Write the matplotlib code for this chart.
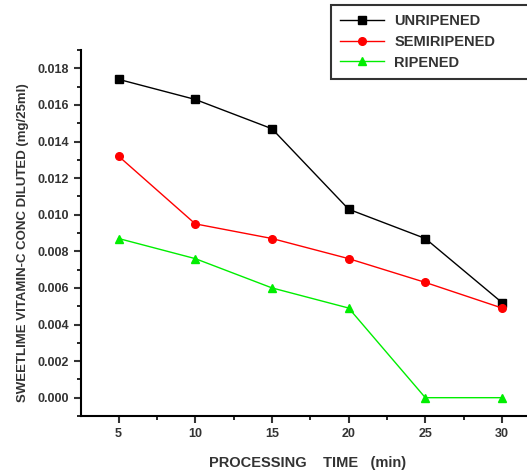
import matplotlib.pyplot as plt
import numpy as np
from matplotlib.ticker import MultipleLocator, FormatStrFormatter

# processing time (min)
time_min = [5, 10, 15, 20, 25, 30]

# vitamin C concentration (mg/25ml)
unripened = [0.0174, 0.0163, 0.0147, 0.0103, 0.0087, 0.0052]
semiripened = [0.0132, 0.0095, 0.0087, 0.0076, 0.0063, 0.0049]
ripened = [0.0087, 0.0076, 0.0060, 0.0049, 0.0000, 0.0000]

plt.rcParams['font.family'] = ['Liberation Sans', 'DejaVu Sans']
plt.rcParams['font.weight'] = 'bold'

fig = plt.figure(figsize=(5.27, 4.74), dpi=100)
ax = fig.add_axes([0.1537, 0.1224, 0.86, 0.772])

ax.plot(time_min, unripened, color='black', marker='s', markersize=5.5,
        linewidth=1, label='UNRIPENED')
ax.plot(time_min, semiripened, color='red', marker='o', markersize=5.5,
        linewidth=1, label='SEMIRIPENED')
ax.plot(time_min, ripened, color='#00ee00', marker='^', markersize=5.5,
        linewidth=1, label='RIPENED')

ax.set_xlim(2.55, 32.1)
ax.set_ylim(-0.001, 0.019)

ax.spines['top'].set_visible(False)
ax.spines['right'].set_visible(False)
ax.spines['left'].set_linewidth(1.5)
ax.spines['bottom'].set_linewidth(1.5)

ax.xaxis.set_major_locator(MultipleLocator(5))
ax.xaxis.set_minor_locator(MultipleLocator(2.5))
ax.yaxis.set_major_locator(MultipleLocator(0.002))
ax.yaxis.set_minor_locator(MultipleLocator(0.001))
ax.yaxis.set_major_formatter(FormatStrFormatter('%.3f'))
ax.tick_params(which='major', direction='out', length=5, width=1.5,
               labelsize=9, colors='#333333')
ax.tick_params(which='minor', direction='out', length=3, width=1.2)
for lab in ax.get_xticklabels() + ax.get_yticklabels():
    lab.set_fontweight('bold')

ax.set_xlabel('PROCESSING    TIME   (min)', fontsize=10.5, fontweight='bold',
              color='#333333', labelpad=12)
ax.set_ylabel('SWEETLIME VITAMIN-C CONC DILUTED (mg/25ml)', fontsize=9.5,
              fontweight='bold', color='#333333')
ax.yaxis.set_label_coords(-0.115, 0.475)

leg = fig.legend(loc='upper left',
                 bbox_to_anchor=(331 / 527, 1 - 78 / 474, 0.5, 73 / 474),
                 mode='expand', fontsize=10.5, frameon=True, fancybox=False,
                 handlelength=3.0, handletextpad=0.7, borderpad=0.65,
                 labelspacing=0.45, borderaxespad=0)
leg.get_frame().set_edgecolor('black')
leg.get_frame().set_linewidth(1.5)
for t in leg.get_texts():
    t.set_fontweight('bold')
    t.set_color('#333333')

fig.savefig('out.png', dpi=100)
